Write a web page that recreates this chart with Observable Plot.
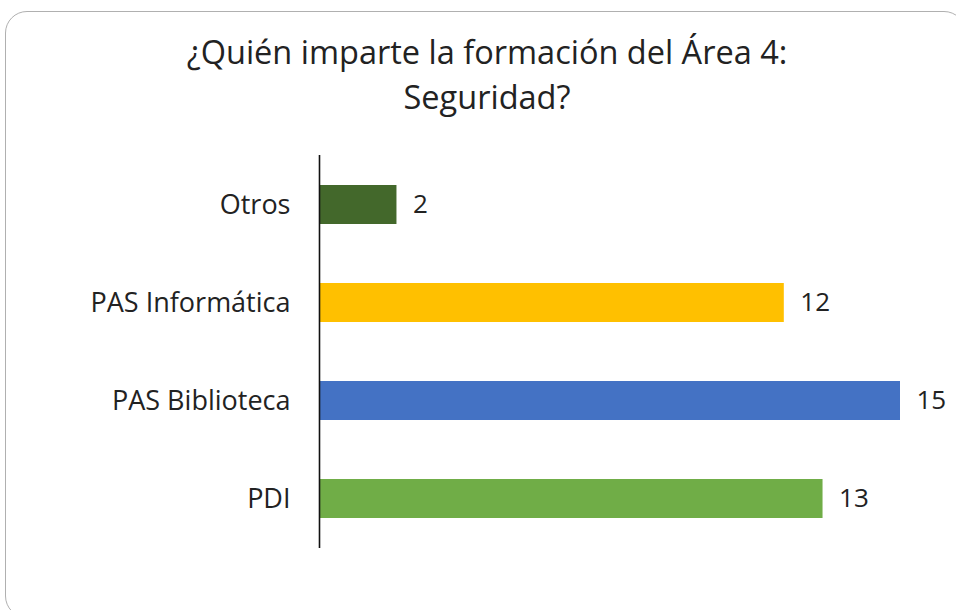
<!DOCTYPE html>
<html>
<head>
<meta charset="utf-8">
<script src="https://cdn.jsdelivr.net/npm/d3@7"></script>
<script src="https://cdn.jsdelivr.net/npm/@observablehq/plot@0.6"></script>
<style>
  html, body { margin: 0; padding: 0; background: #fff; }
  #wrap { position: relative; width: 956px; height: 610px; overflow: hidden; background: #fff; }
  #frame { position: absolute; left: 5px; top: 11px; width: 961px; height: 607px; border: 1.5px solid #b0b0b0; border-radius: 22px; box-sizing: border-box; }
  #title { position: absolute; left: 0; top: 29px; width: 974px; text-align: center; font-family: "Open Sans", sans-serif; font-size: 32.5px; line-height: 45px; color: #222; }
  #chart { position: absolute; left: 0; top: 0; }
</style>
</head>
<body>
<div id="wrap">
  <div id="frame"></div>
  <div id="title">¿Quién imparte la formación del Área 4:<br>Seguridad?</div>
  <div id="chart"></div>
</div>
<script>
const categories = ["Otros", "PAS Informática", "PAS Biblioteca", "PDI"];
const values = [2, 12, 15, 13];
const colors = ["#43682B", "#FFC000", "#4472C4", "#70AD47"];

const data = categories.map((c, i) => ({category: c, value: values[i], color: colors[i]}));
const font = '"Open Sans", sans-serif';

const chart = Plot.plot({
  width: 956,
  height: 610,
  marginTop: 155,
  marginBottom: 62,
  marginLeft: 319,
  marginRight: 56,
  style: {fontFamily: font, fontSize: "27px", color: "#222", background: "transparent"},
  x: {domain: [0, 15], axis: null},
  y: {domain: categories, paddingInner: 0.6, paddingOuter: 0.3, label: null, tickSize: 0, tickPadding: 29},
  marks: [
    Plot.barX(data, {x: "value", y: "category", fill: "color"}),
    Plot.text(data, {x: "value", y: "category", text: d => String(d.value), textAnchor: "start", dx: 16, fontSize: 26, fill: "#222"}),
    Plot.ruleX([0], {stroke: "#111", strokeWidth: 1.6})
  ]
});
document.getElementById("chart").appendChild(chart);
</script>
</body>
</html>
